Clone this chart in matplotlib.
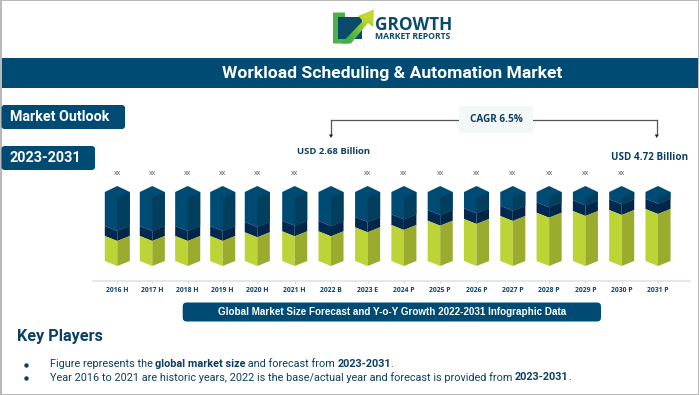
import matplotlib
matplotlib.use("Agg")
import matplotlib.pyplot as plt
from matplotlib.patches import FancyBboxPatch, Rectangle, Polygon
from matplotlib.colors import LinearSegmentedColormap

# ---------- data (relative bar heights) ----------
years = ["2016 H", "2017 H", "2018 H", "2019 H", "2020 H", "2021 H", "2022 B", "2023 E",
         "2024 P", "2025 P", "2026 P", "2027 P", "2028 P", "2029 P", "2030 P", "2031 P"]
lime_values = [25, 25, 25, 25, 28.7, 29.7, 29.7, 33.7, 36, 40.3, 42, 45, 48.3, 50, 51, 52]
band_values = [10, 10, 10, 10, 10.3, 10.6, 10.3, 10.3, 10.7, 10.7, 10.7, 10.3, 10.4, 10.7, 10.7, 10.3]
total_values = [69] * 16
xx_flags = [1, 1, 1, 1, 1, 1, 0, 1, 1, 1, 1, 1, 1, 1, 1, 0]
x_nudge = [.105, .069, .044, .008, -.039, -.008, -.008, 0, 0, 0, 0, 0, 0, 0, 0, 0]

title = "Workload Scheduling & Automation Market"
caption = "Global Market Size Forecast and Y-o-Y Growth 2022-2031 Infographic Data"

NAVY, NAVY_D = "#004b73", "#023f5f"
BAND, BAND_D = "#01284f", "#012647"
LIME, LIME_D = "#bcd435", "#9aab2e"
INK = "#0b3f63"
PX = 0.72

fig = plt.figure(figsize=(7, 3.95), dpi=100, facecolor="white")
bg = fig.add_axes([0, 0, 1, 1])
bg.set_xlim(0, 700); bg.set_ylim(395, 0); bg.axis("off")


def pill(x0, y0, x1, y1, r=3, color=NAVY, ax=bg):
    ax.add_patch(FancyBboxPatch((x0 + r, y0 + r), x1 - x0 - 2 * r, y1 - y0 - 2 * r,
                                boxstyle=f"round,pad={r},rounding_size={r}",
                                fc=color, ec="none", zorder=2))


def T(x, y, s, px, weight="normal", color="white", family="Roboto", ha="left", **kw):
    return bg.text(x, y, s, fontsize=px * PX, fontweight=weight, color=color,
                   family=family, ha=ha, va="center", zorder=5, **kw)


# frame
for r in [(0, 0, 1.5, 395), (697.5, 0, 1.5, 395), (0, 0, 699, 1.2), (0, 393.6, 699, 1.4)]:
    bg.add_patch(Rectangle(r[:2], r[2], r[3], fc="#b9b9b9", ec="none", zorder=1))

# logo
bg.add_patch(Polygon([(333, 12.5), (345, 12.5), (345, 17), (338, 17), (338, 39), (352, 39),
                      (348, 43.5), (333, 43.5)], fc="#4fb04a", ec="none", zorder=2))
bg.add_patch(Rectangle((338, 17), 24, 22, fc="#0a4a6b", ec="none", zorder=2))
grad = LinearSegmentedColormap.from_list("g", ["#3fae49", "#c5d82e"])
arrow = Polygon([(341, 43.5), (363, 21), (358, 16), (374, 9.5), (373, 27), (368, 23), (351, 43.5)],
                fc="none", ec="none", zorder=3)
bg.add_patch(arrow)
im = bg.imshow([[0, .5], [.5, 1]][::-1], cmap=grad, extent=(340, 374, 44, 9), zorder=3,
               interpolation="bilinear", aspect="auto")
im.set_clip_path(arrow)
bg.set_xlim(0, 700); bg.set_ylim(395, 0)
T(374.5, 24.5, "GROWTH", 17.2, "bold", "#0a4a6b", family="Open Sans")
T(375, 36.5, "MARKET REPORTS", 8.7, "bold", "#0a4a6b", family="Open Sans")

# header and labels
bg.add_patch(Rectangle((1.5, 58.3), 696, 30, fc=NAVY, ec="none", zorder=2))
T(392.5, 73.2, title, 17.5, "bold", ha="center")
pill(1.5, 105, 125, 129)
T(10, 116.8, "Market Outlook", 14.2, "bold")
pill(1.5, 146, 95, 170)
T(10, 157.8, "2023-2031", 14.4, "bold")

# CAGR annotation
bg.plot([331, 459], [119.5, 119.5], color="#555555", lw=0.9, zorder=2)
bg.plot([533, 656.7], [119.5, 119.5], color="#555555", lw=0.9, zorder=2)
for x in (331, 656.7):
    bg.plot([x, x], [119.5, 135], color="#555555", lw=0.9, zorder=2)
    bg.add_patch(Polygon([(x - 2, 134.5), (x + 2, 134.5), (x, 138)], fc="#222222", ec="none", zorder=3))
bg.add_patch(Rectangle((459, 106), 74, 27, fc="#f4f7f7", ec="none", zorder=2))
T(496, 120, "CAGR 6.5%", 10, "bold", INK, family="Open Sans", ha="center")
T(333.5, 151, "USD 2.68 Billion", 9.5, "bold", INK, family="Open Sans", ha="center")
T(650, 157.5, "USD 4.72 Billion", 9.9, "bold", INK, family="Open Sans", ha="center")

# bars
ax = fig.add_axes([93 / 700, 1 - 280.7 / 395, 597 / 700, 120.7 / 395], facecolor="none")
ax.set_xlim((93 - 113.5) / 36.3, (690 - 113.5) / 36.3)
ax.set_ylim(-19.7, 101)
hw, d = 0.345, 5.0
positions = [i + n for i, n in enumerate(x_nudge)]
for c, lime, band, tot, flag in zip(positions, lime_values, band_values, total_values, xx_flags):
    top = lime + band
    l, r = c - hw, c + hw
    # navy body with top face
    ax.fill([l, c, r, r, c, l], [tot, tot + d + 1, tot, top, top - d, top], color=NAVY, lw=0, zorder=2)
    ax.fill([c, r, r, c], [tot - d - 1, tot, top, top - d], color=NAVY_D, lw=0, zorder=3)
    # dark band
    ax.fill([l, c, c, l], [top, top - d, lime - d, lime], color=BAND, lw=0, zorder=3)
    ax.fill([c, r, r, c], [top - d, top, lime, lime - d], color=BAND_D, lw=0, zorder=3)
    # lime base
    ax.fill([l, c, c, l], [lime, lime - d, -d, 0], color=LIME, lw=0, zorder=3)
    ax.fill([c, r, r, c], [lime - d, lime, 0, -d], color=LIME_D, lw=0, zorder=3)
    if flag:
        ax.text(c, tot + 18.5, "xx", ha="center", va="center", fontsize=5, color="#555555",
                family="Open Sans")

ax.set_xticks(positions, years)
ax.tick_params(axis="x", length=1.2, width=0.4, color="#9fb0b8", pad=3.2, labelcolor=INK)
for lb in ax.get_xticklabels():
    lb.set_fontsize(4.9); lb.set_fontweight("bold"); lb.set_family("Open Sans")
ax.set_yticks([])
for s in ("top", "left", "right"):
    ax.spines[s].set_visible(False)
ax.spines["bottom"].set_color("#d9e2e4"); ax.spines["bottom"].set_linewidth(1.1)

# caption
pill(182.7, 302.5, 601, 321.5, r=4)
T(392, 312, caption, 9.9, "bold", family="Liberation Sans", ha="center")

# footer
T(17, 336.7, "Key Players", 16.3, "bold", INK)


def rich(x, y, parts, px=10.9):
    fig.canvas.draw()
    rend = fig.canvas.get_renderer()
    for s, w in parts:
        t = T(x, y, s, px, w, INK)
        t.set_text(s.replace(" ", "\u00a0"))
        x += t.get_window_extent(rend).width - 0.4


for y, parts in [
    (364, [("Figure represents the ", "normal"), ("global market size", "bold"),
           (" and forecast from ", "normal"), ("2023-2031", "bold"), (".", "normal")]),
    (377.3, [("Year 2016 to 2021 are historic years, 2022 is the base/actual year and forecast is provided from ", "normal"),
             ("2023-2031", "bold"), (".", "normal")]),
]:
    bg.plot([26], [y + 0.5], "o", ms=2.2, color=INK, zorder=4)
    rich(50, y, parts)

fig.savefig("out.png", dpi=100)
